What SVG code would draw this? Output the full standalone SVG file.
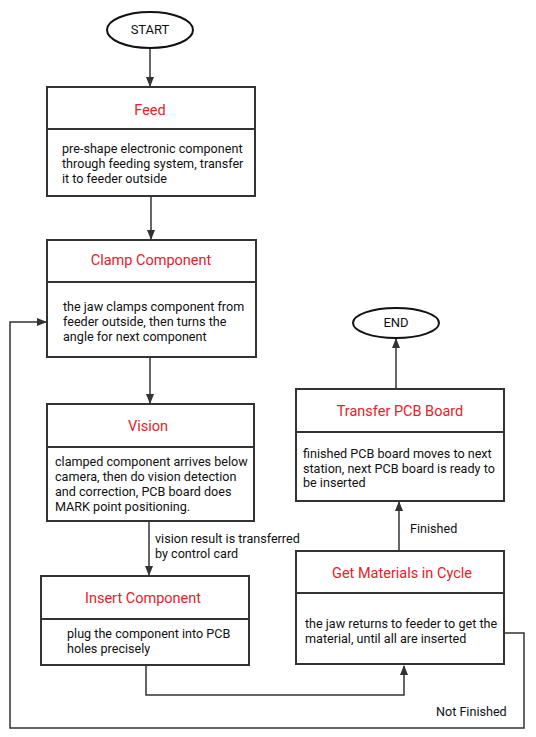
<svg xmlns="http://www.w3.org/2000/svg" width="536" height="737" viewBox="0 0 536 737">
<defs>
<marker id="arr" markerWidth="10" markerHeight="10" refX="9" refY="5" orient="auto" markerUnits="userSpaceOnUse">
<path d="M0,1 L10,5 L0,9 Z" fill="#333"/>
</marker>
<style>
.box{fill:#fff;stroke:#333;stroke-width:2}
.div{stroke:#333;stroke-width:2}
.title{font-family:Roboto,"Liberation Sans",sans-serif;font-size:14.5px;fill:#e8202a;text-anchor:middle}
.body{font-family:Roboto,"Liberation Sans",sans-serif;font-size:12.6px;fill:#111}
.lbl{font-family:Roboto,"Liberation Sans",sans-serif;font-size:12.6px;fill:#111}
.term{font-family:Roboto,"Liberation Sans",sans-serif;font-size:13px;fill:#111;text-anchor:middle}
.ell{fill:#fff;stroke:#111;stroke-width:2}
.con{fill:none;stroke:#333;stroke-width:1.5}
</style>
</defs>
<rect width="536" height="737" fill="#fff"/>
<g id="connectors">
<line class="con" x1="150" y1="48" x2="150" y2="86" marker-end="url(#arr)"/>
<line class="con" x1="151" y1="196" x2="151" y2="239" marker-end="url(#arr)"/>
<line class="con" x1="150" y1="357" x2="150" y2="403" marker-end="url(#arr)"/>
<line class="con" x1="149" y1="521" x2="149" y2="575" marker-end="url(#arr)"/>
<path class="con" d="M146,665 V695 H404 V666" marker-end="url(#arr)"/>
<line class="con" x1="399" y1="551" x2="399" y2="502" marker-end="url(#arr)"/>
<line class="con" x1="396" y1="389" x2="396" y2="339" marker-end="url(#arr)"/>
<path class="con" d="M504,633 H524 V728 H10 V322 H46" marker-end="url(#arr)"/>
<text class="lbl" x="155" y="543">vision result is transferred</text>
<text class="lbl" x="155" y="558">by control card</text>
<text class="lbl" x="410" y="533">Finished</text>
<text class="lbl" x="436" y="716">Not Finished</text>
</g>
<g id="start">
<ellipse class="ell" cx="150" cy="30" rx="43" ry="18"/>
<text class="term" x="150" y="34">START</text>
</g>
<g id="feed">
<rect class="box" x="47" y="87" width="208" height="109"/>
<line class="div" x1="47" y1="129" x2="255" y2="129"/>
<text class="title" x="150" y="115">Feed</text>
<text class="body" x="62" y="153">pre-shape electronic component</text>
<text class="body" x="62" y="168">through feeding system, transfer</text>
<text class="body" x="62" y="183">it to feeder outside</text>
</g>
<g id="clamp">
<rect class="box" x="47" y="240" width="209" height="117"/>
<line class="div" x1="47" y1="282" x2="256" y2="282"/>
<text class="title" x="151" y="265">Clamp Component</text>
<text class="body" x="63" y="311">the jaw clamps component from</text>
<text class="body" x="63" y="326">feeder outside, then turns the</text>
<text class="body" x="63" y="341">angle for next component</text>
</g>
<g id="vision">
<rect class="box" x="47" y="404" width="207" height="117"/>
<line class="div" x1="47" y1="447" x2="254" y2="447"/>
<text class="title" x="148" y="431">Vision</text>
<text class="body" x="55" y="466">clamped component arrives below</text>
<text class="body" x="55" y="481">camera, then do vision detection</text>
<text class="body" x="55" y="496">and correction, PCB board does</text>
<text class="body" x="55" y="511">MARK point positioning.</text>
</g>
<g id="insert">
<rect class="box" x="41" y="576" width="208" height="89"/>
<line class="div" x1="41" y1="619" x2="249" y2="619"/>
<text class="title" x="143" y="603">Insert Component</text>
<text class="body" x="67" y="638">plug the component into PCB</text>
<text class="body" x="67" y="653">holes precisely</text>
</g>
<g id="getmaterials">
<rect class="box" x="296" y="551" width="208" height="113"/>
<line class="div" x1="296" y1="593" x2="504" y2="593"/>
<text class="title" x="402" y="578">Get Materials in Cycle</text>
<text class="body" x="305" y="628">the jaw returns to feeder to get the</text>
<text class="body" x="305" y="643">material, until all are inserted</text>
</g>
<g id="transfer">
<rect class="box" x="296" y="389" width="208" height="112"/>
<line class="div" x1="296" y1="432" x2="504" y2="432"/>
<text class="title" x="400" y="416">Transfer PCB Board</text>
<text class="body" x="303" y="458">finished PCB board moves to next</text>
<text class="body" x="303" y="473">station, next PCB board is ready to</text>
<text class="body" x="303" y="487">be inserted</text>
</g>
<g id="end">
<ellipse class="ell" cx="396" cy="323" rx="43" ry="15"/>
<text class="term" x="396" y="327">END</text>
</g>
</svg>
